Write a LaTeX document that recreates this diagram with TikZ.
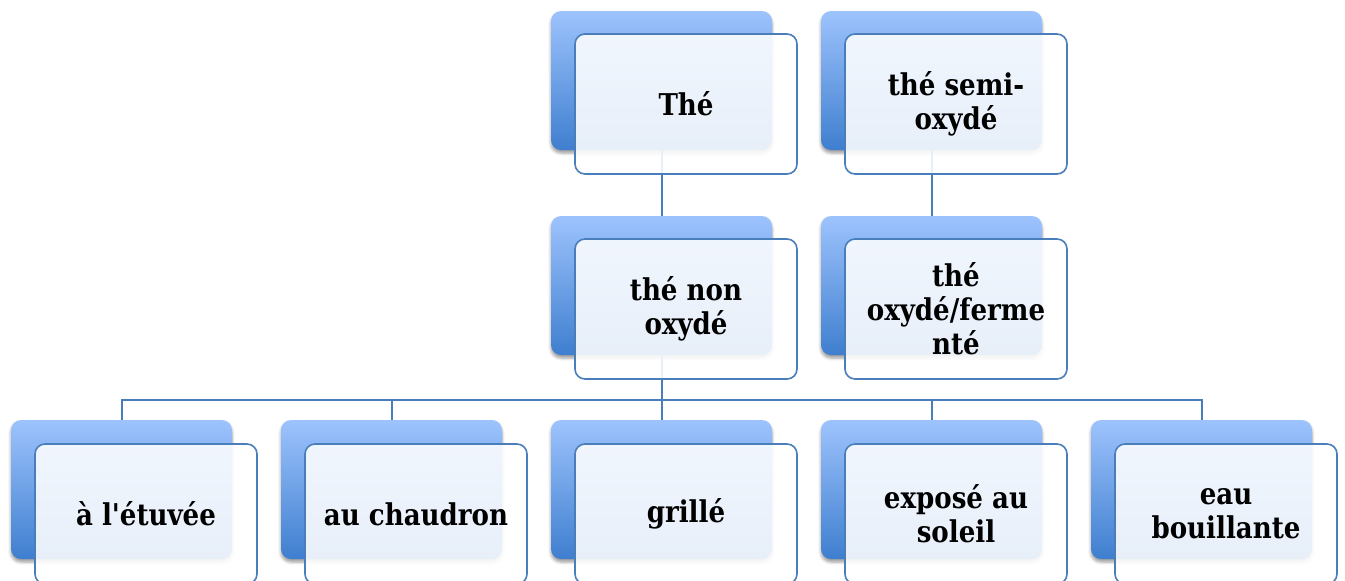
\documentclass[tikz,border=0pt]{standalone}
\usepackage{fontspec}
\newfontfamily\lblfont[FakeStretch=0.87,Ligatures=TeXOff]{DejaVu Serif}
\usetikzlibrary{shadows.blur}
\definecolor{backtop}{HTML}{9DC3FD}
\definecolor{backbot}{HTML}{3F7FCF}
\definecolor{edgeblue}{HTML}{4A7EBB}
\tikzset{
 backbox/.style={rounded corners=10pt, minimum width=221pt, minimum height=139pt, inner sep=0pt,
   top color=backtop, bottom color=backbot,
   blur shadow={shadow xshift=0pt, shadow yshift=-3pt, shadow blur radius=3pt, shadow opacity=40}},
 frontbox/.style={rounded corners=10pt, minimum width=222pt, minimum height=140pt, inner sep=0pt,
   draw=edgeblue, line width=1.6pt, fill=white, fill opacity=0.88, text opacity=1, align=center,
   font=\lblfont\bfseries\fontsize{30}{34}\selectfont},
 link/.style={draw=edgeblue, line width=2pt}
}
\begin{document}
\begin{tikzpicture}[x=1pt,y=-1pt]
\useasboundingbox (0,0) rectangle (1345,581);
% back boxes
\node[backbox] (b1) at (661.5,80.5) {};
\node[backbox] (b2) at (931.5,80.5) {};
\node[backbox] (b3) at (661.5,285.5) {};
\node[backbox] (b4) at (931.5,285.5) {};
\node[backbox] (c1) at (121.5,489.5) {};
\node[backbox] (c2) at (391.5,489.5) {};
\node[backbox] (c3) at (661.5,489.5) {};
\node[backbox] (c4) at (931.5,489.5) {};
\node[backbox] (c5) at (1201.5,489.5) {};
% connectors
\coordinate (bus) at (661.5,400);
\draw[link] (b1.south) -- (b3.north);
\draw[link] (b2.south) -- (b4.north);
\draw[link] (b3.south) -- (bus);
\draw[link] (c1.north) |- (c5.north |- bus) -- (c5.north);
\draw[link] (c2.north |- bus) -- (c2.north);
\draw[link] (c3.north |- bus) -- (c3.north);
\draw[link] (c4.north |- bus) -- (c4.north);
% front boxes
\node[frontbox] (f1) at (686,104) {Thé};
\node[frontbox] (f2) at (956,104) {thé semi-\\oxydé};
\node[frontbox] (f3) at (686,309) {thé non\\oxydé};
\node[frontbox] (f4) at (956,309) {thé\\oxydé/ferme\\nté};
\node[frontbox] (g1) at (146,514) {à l'étuvée};
\node[frontbox] (g2) at (416,514) {au chaudron};
\node[frontbox] (g3) at (686,514) {grillé};
\node[frontbox] (g4) at (956,514) {exposé au\\soleil};
\node[frontbox] (g5) at (1226,514) {eau\\bouillante};
\end{tikzpicture}
\end{document}
